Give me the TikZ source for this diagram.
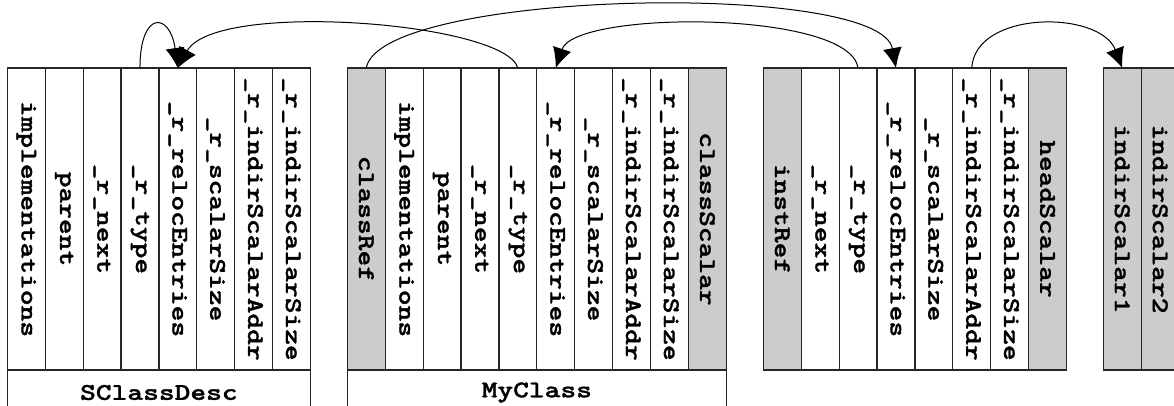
\documentclass[tikz,border=0pt]{standalone}
\usepackage{graphicx}
\usepackage{fontspec}
\usetikzlibrary{arrows.meta,positioning}
\newfontfamily\recmono{lmmonolt10-bold}[Extension=.otf, FakeBold=1.2]
\newcommand{\recfont}{\fontsize{24}{24}\selectfont\recmono}
\newcommand{\fieldlabel}[1]{\rotatebox{-90}{\scalebox{1.25}[1]{#1}}}

\begin{document}
\begin{tikzpicture}[x=1pt, y=-1pt,
        field/.style = {draw=black!85, line width=1.2pt, fill=white, minimum width=37.9pt, minimum height=302pt, inner sep=0pt, outer sep=0pt, font=\recfont},
        ref field/.style = {field, fill=black!20},
        record name/.style = {draw=black!85, line width=1.2pt, minimum height=45pt, inner sep=0pt, outer sep=0pt, anchor=north west, font=\recfont},
        link/.style = {line width=1pt, -{Latex[length=20pt,width=19pt]}}]
        \useasboundingbox (0,0) rectangle (1174,405);
        % SClassDesc
        \node[field, anchor=north west] (sc1) at (7.3,68) {\fieldlabel{implementations}};
        \node[field, right=0pt of sc1] (sc2) {\fieldlabel{parent}};
        \node[field, right=0pt of sc2] (sc3) {\fieldlabel{\_r\_next}};
        \node[field, right=0pt of sc3] (sc4) {\fieldlabel{\_r\_type}};
        \node[field, right=0pt of sc4] (sc5) {\fieldlabel{\_r\_relocEntries}};
        \node[field, right=0pt of sc5] (sc6) {\fieldlabel{\_r\_scalarSize}};
        \node[field, right=0pt of sc6] (sc7) {\fieldlabel{\_r\_indirScalarAddr}};
        \node[field, right=0pt of sc7] (sc8) {\fieldlabel{\_r\_indirScalarSize}};
        \node[record name, minimum width=303.2pt] (scname) at (sc1.south west) {\scalebox{1.25}[1]{SClassDesc}};
        % MyClass
        \node[ref field, anchor=north west] (mc1) at (347.3,68) {\fieldlabel{classRef}};
        \node[field, right=0pt of mc1] (mc2) {\fieldlabel{implementations}};
        \node[field, right=0pt of mc2] (mc3) {\fieldlabel{parent}};
        \node[field, right=0pt of mc3] (mc4) {\fieldlabel{\_r\_next}};
        \node[field, right=0pt of mc4] (mc5) {\fieldlabel{\_r\_type}};
        \node[field, right=0pt of mc5] (mc6) {\fieldlabel{\_r\_relocEntries}};
        \node[field, right=0pt of mc6] (mc7) {\fieldlabel{\_r\_scalarSize}};
        \node[field, right=0pt of mc7] (mc8) {\fieldlabel{\_r\_indirScalarAddr}};
        \node[field, right=0pt of mc8] (mc9) {\fieldlabel{\_r\_indirScalarSize}};
        \node[ref field, right=0pt of mc9] (mc10) {\fieldlabel{classScalar}};
        \node[record name, minimum width=379pt] (mcname) at (mc1.south west) {\scalebox{1.25}[1]{MyClass}};
        % instance
        \node[ref field, anchor=north west] (ir1) at (763.3,68) {\fieldlabel{instRef}};
        \node[field, right=0pt of ir1] (ir2) {\fieldlabel{\_r\_next}};
        \node[field, right=0pt of ir2] (ir3) {\fieldlabel{\_r\_type}};
        \node[field, right=0pt of ir3] (ir4) {\fieldlabel{\_r\_relocEntries}};
        \node[field, right=0pt of ir4] (ir5) {\fieldlabel{\_r\_scalarSize}};
        \node[field, right=0pt of ir5] (ir6) {\fieldlabel{\_r\_indirScalarAddr}};
        \node[field, right=0pt of ir6] (ir7) {\fieldlabel{\_r\_indirScalarSize}};
        \node[ref field, right=0pt of ir7] (ir8) {\fieldlabel{headScalar}};
        % indirect scalars
        \node[ref field, anchor=north west] (is1) at (1103.3,68) {\fieldlabel{indirScalar1}};
        \node[ref field, right=0pt of is1] (is2) {\fieldlabel{indirScalar2}};
        % links
        \draw[link] (sc4.north) .. controls (140,10) and (170,12) .. (sc5.north);
        \draw[link] (mc5.north) .. controls (505,22) and (215,0) .. (sc5.north);
        \draw[link] (mc1.north) .. controls (380,-10) and (880,-20) .. (ir4.north);
        \draw[link] (ir3.north) .. controls (850,10) and (575,10) .. (mc6.north);
        \draw[link] (ir6.north) .. controls (975,10) and (1100,10) .. (is1.north);
    \end{tikzpicture}
\end{document}
